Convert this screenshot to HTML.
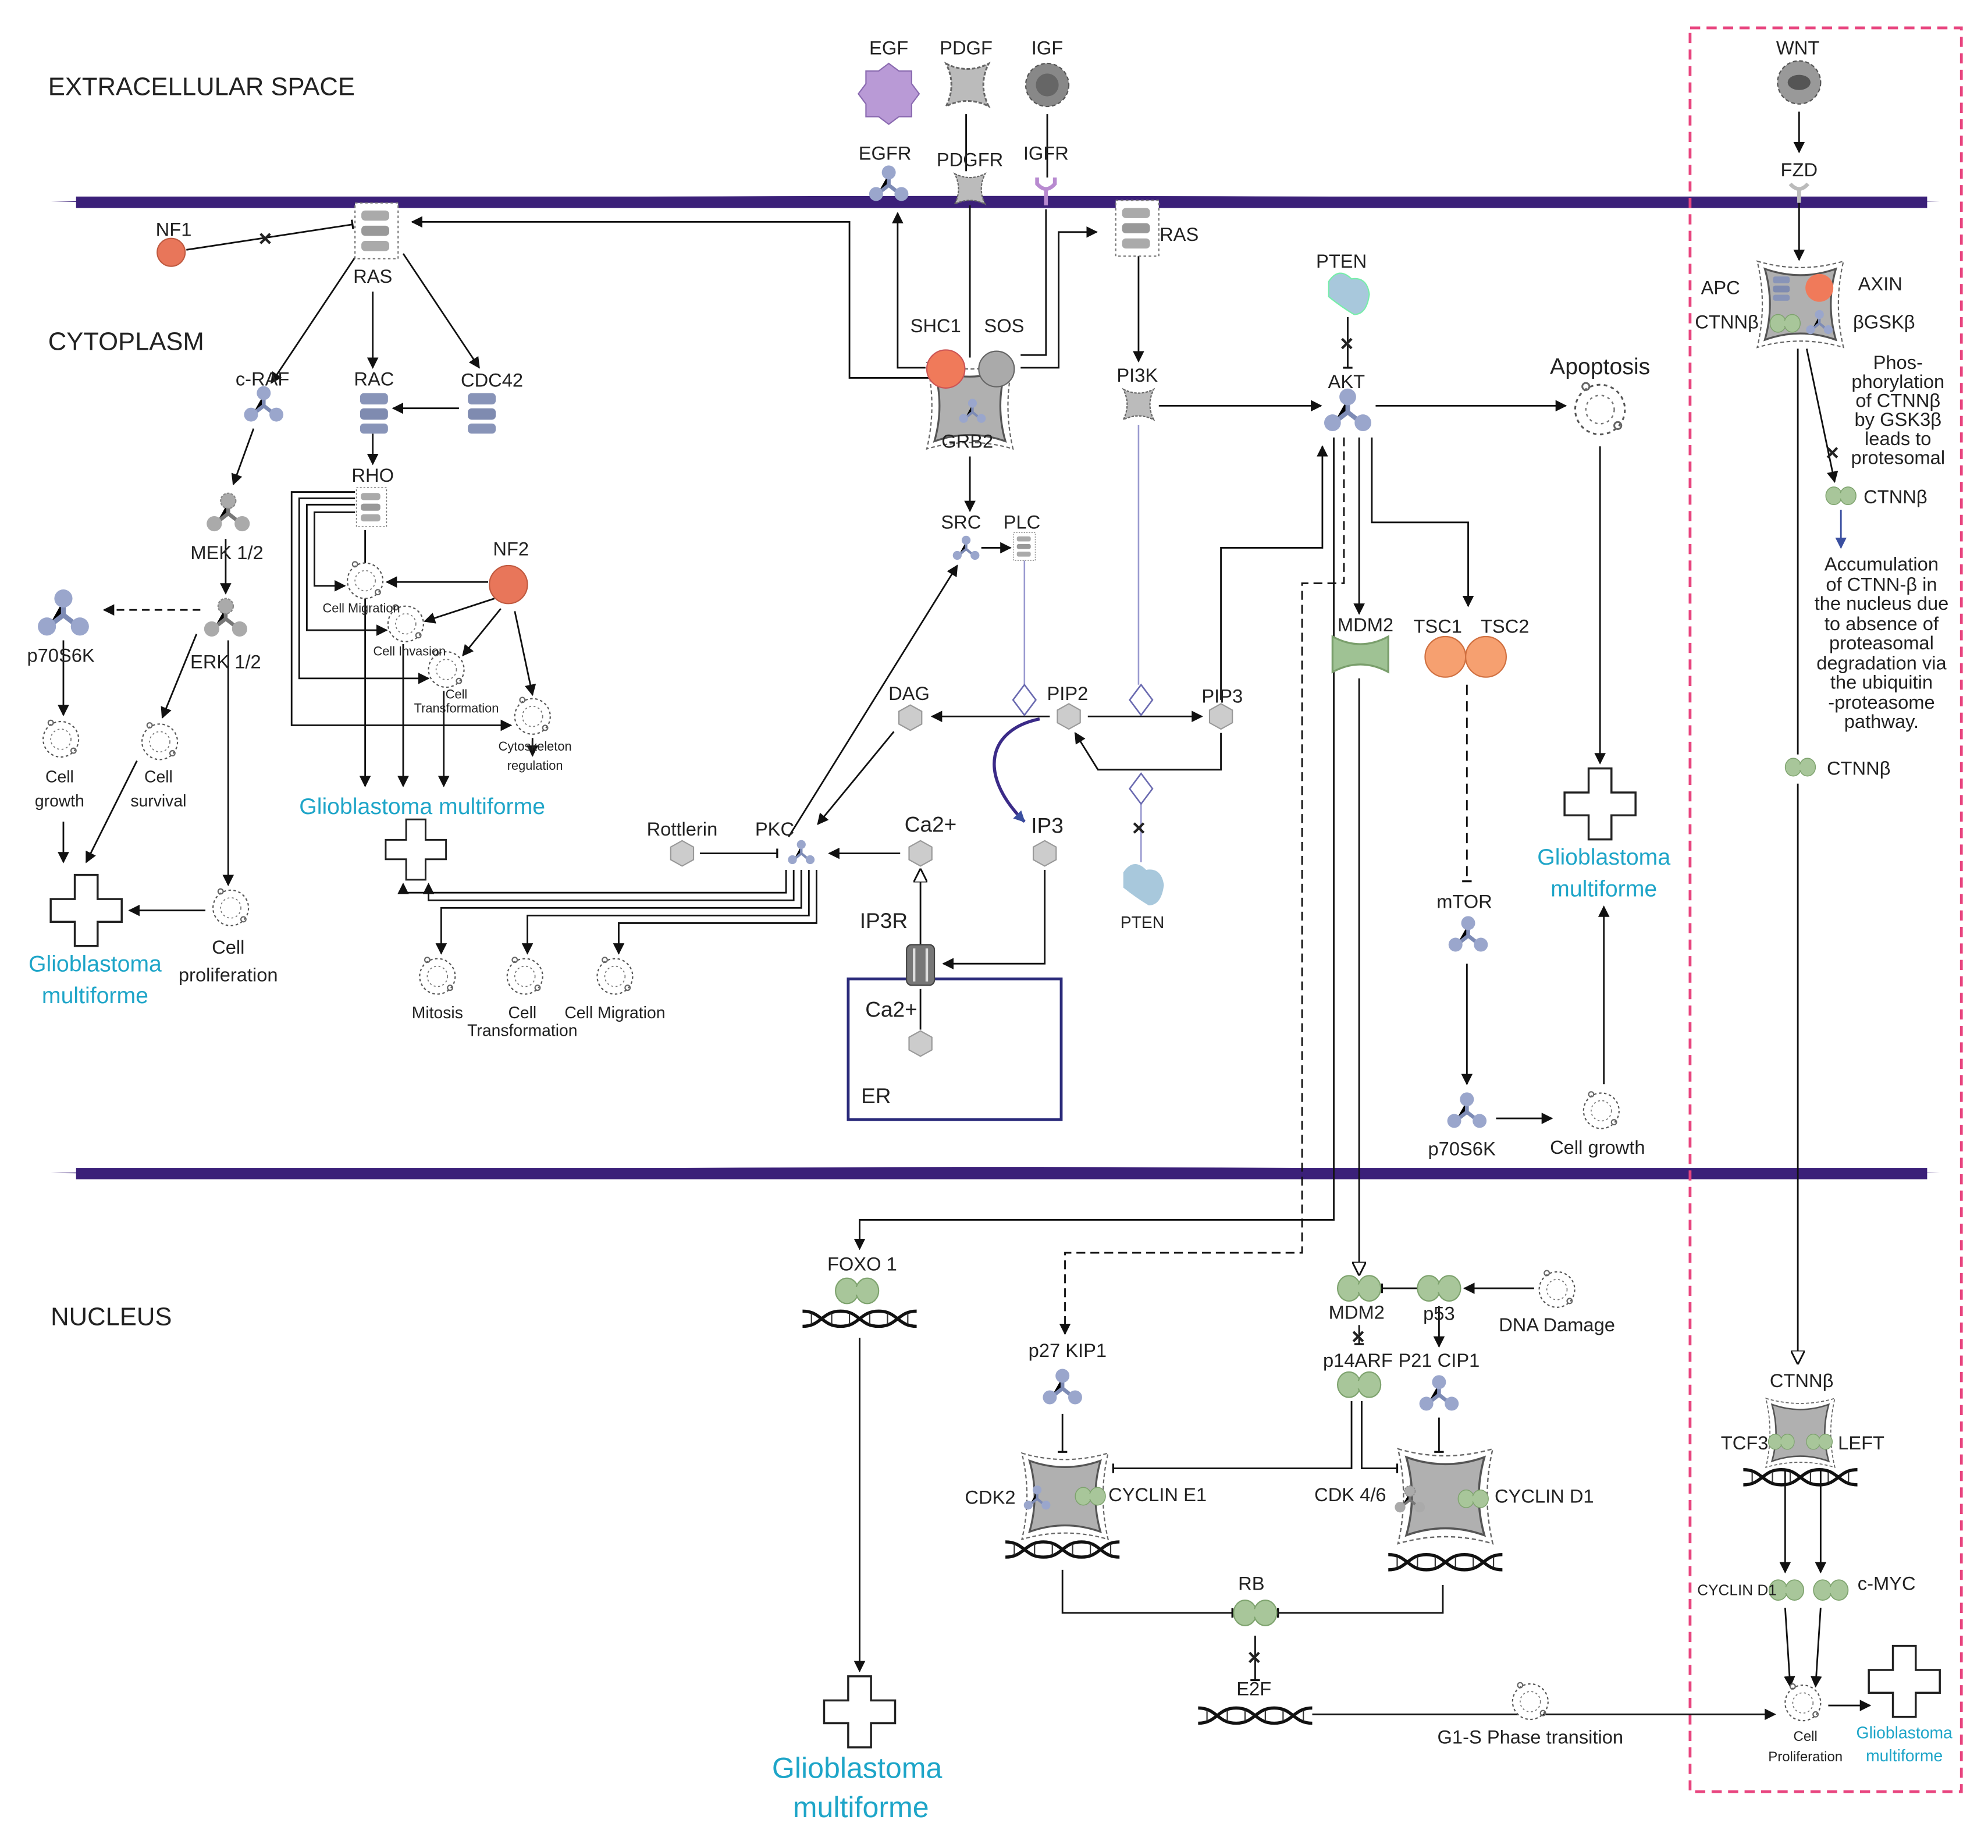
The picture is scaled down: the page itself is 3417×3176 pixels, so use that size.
<!DOCTYPE html>
<html><head><meta charset="utf-8"><style>
html,body{margin:0;padding:0;background:#fff}
svg{display:block}
text{font-family:"Liberation Sans",sans-serif;fill:#222}
</style></head><body>
<svg width="3417" height="3176" viewBox="0 0 1568 1457.4" xmlns="http://www.w3.org/2000/svg">
<defs>
<marker id="a" viewBox="0 0 10 10" refX="9" refY="5" markerWidth="9" markerHeight="9" markerUnits="userSpaceOnUse" orient="auto"><path d="M0,0L10,5L0,10z" fill="#111"/></marker>
<marker id="ab" viewBox="0 0 10 10" refX="9" refY="5" markerWidth="9" markerHeight="9" markerUnits="userSpaceOnUse" orient="auto"><path d="M0,0L10,5L0,10z" fill="#3a4fa0"/></marker>
<marker id="o" viewBox="0 0 10 10" refX="9" refY="5" markerWidth="11" markerHeight="11" markerUnits="userSpaceOnUse" orient="auto"><path d="M0,0L10,5L0,10z" fill="#fff" stroke="#111" stroke-width="1.2"/></marker>
<marker id="b" viewBox="0 0 4 10" refX="2" refY="5" markerWidth="3" markerHeight="10" markerUnits="userSpaceOnUse" orient="auto"><path d="M2,0L2,10" stroke="#111" stroke-width="2"/></marker>
<g id="tri"><path d="M0,-9L0,0L-9,7M0,0L9,7" stroke="#7d8bb5" stroke-width="3"/><circle cx="0" cy="-10" r="5.5" fill="#9aa6cc"/><circle cx="-10" cy="7" r="5.5" fill="#9aa6cc"/><circle cx="10" cy="7" r="5.5" fill="#9aa6cc"/></g>
<g id="tris"><path d="M0,-6L0,0L-6,5M0,0L6,5" stroke="#7d8bb5" stroke-width="2"/><circle cx="0" cy="-7" r="3.5" fill="#9aa6cc"/><circle cx="-7" cy="5" r="3.5" fill="#9aa6cc"/><circle cx="7" cy="5" r="3.5" fill="#9aa6cc"/></g>
<g id="trig"><path d="M0,-9L0,0L-9,7M0,0L9,7" stroke="#777" stroke-width="3"/><circle cx="0" cy="-10" r="6" fill="#aaa" stroke="#888" stroke-dasharray="2 1"/><circle cx="-11" cy="8" r="6" fill="#aaa"/><circle cx="11" cy="8" r="6" fill="#aaa"/></g>
<g id="cross"><path d="M-9,-28H9V-9H28V9H9V28H-9V9H-28V-9H-9z" fill="#fff" stroke="#222" stroke-width="1.6"/></g>
<g id="cell"><circle r="14" fill="#fff" stroke="#555" stroke-width="1" stroke-dasharray="2 2"/><circle r="8" fill="none" stroke="#777" stroke-width="0.8" stroke-dasharray="1.5 2"/><circle cx="-8" cy="-13" r="2" fill="none" stroke="#666"/><circle cx="10" cy="9" r="2" fill="none" stroke="#666"/></g>
<g id="hex"><path d="M0,-10L9,-5L9,5L0,10L-9,5L-9,-5z" fill="#ccc" stroke="#999"/></g>
<g id="grn"><ellipse cx="-8" cy="0" rx="9" ry="10" fill="#a8c69a" stroke="#7ea36e"/><ellipse cx="8" cy="0" rx="9" ry="10" fill="#a8c69a" stroke="#7ea36e"/><rect x="-6" y="-3" width="12" height="6" fill="#a8c69a"/></g>
<g id="grnb"><path d="M-22,-14Q0,-2 22,-14L22,14Q0,2 -22,14z" fill="#9fc294" stroke="#7a9f6c" stroke-width="1.5"/></g>
<g id="ras"><rect x="-17" y="-22" width="34" height="44" fill="#fff" stroke="#777" stroke-dasharray="2 2"/><rect x="-12" y="-16" width="22" height="8" rx="3" fill="#aaa"/><rect x="-12" y="-4" width="22" height="8" rx="3" fill="#999"/><rect x="-12" y="8" width="22" height="8" rx="3" fill="#aaa"/></g>
<g id="rasb"><rect x="-11" y="-15" width="22" height="9" rx="3" fill="#8894b8"/><rect x="-11" y="-3" width="22" height="9" rx="3" fill="#7f8bb0"/><rect x="-11" y="9" width="22" height="8" rx="3" fill="#8894b8"/></g>
<g id="sq"><path d="M-12,-12Q0,-6 12,-12Q6,0 12,12Q0,6 -12,12Q-6,0 -12,-12z" fill="#bbb" stroke="#666" stroke-dasharray="2 1"/></g>
<g id="cplx"><path d="M-28,-28Q0,-18 28,-28Q20,0 28,28Q0,18 -28,28Q-20,0 -28,-28z" fill="#b0b0b0" stroke="#555" stroke-width="1.5"/><path d="M-34,-34Q0,-24 34,-34Q26,0 34,34Q0,24 -34,34Q-26,0 -34,-34z" fill="none" stroke="#666" stroke-dasharray="3 2"/></g>
<g id="dna"><path d="M-45,-6C-30,-6 -30,6 -15,6S0,-6 15,-6S30,6 45,6M-45,6C-30,6 -30,-6 -15,-6S0,6 15,6S30,-6 45,-6" fill="none" stroke="#111" stroke-width="2.5"/><path d="M-38,-4V4M-22,-4V4M-8,-4V4M8,-4V4M22,-4V4M38,-4V4" stroke="#333" stroke-width="1"/></g>
</defs>

<!-- membranes -->
<path d="M40,159Q780,150 1530,159Q780,168 40,159z" fill="#3b2079"/>
<rect x="60" y="155" width="1460" height="9" fill="#3b2079"/>
<path d="M40,925Q780,916 1530,925Q780,934 40,925z" fill="#3b2079"/>
<rect x="60" y="921" width="1460" height="9" fill="#3b2079"/>
<rect x="1333" y="22" width="214" height="1391" fill="none" stroke="#e8457f" stroke-width="2.2" stroke-dasharray="8 5"/>
<rect x="669" y="772" width="168" height="111" fill="none" stroke="#2a2a7a" stroke-width="2.2"/>

<!-- section labels -->
<g font-size="20">
<text x="38" y="75">EXTRACELLULAR SPACE</text>
<text x="38" y="276">CYTOPLASM</text>
<text x="40" y="1045">NUCLEUS</text>
</g>

<!-- connectors -->
<g stroke="#111" stroke-width="1.3" fill="none">
<path d="M147,197L278,177" marker-end="url(#b)"/>
<path d="M282,200L214,302" marker-end="url(#a)"/>
<path d="M294,230L294,290" marker-end="url(#a)"/>
<path d="M318,200L378,290" marker-end="url(#a)"/>
<path d="M362,322L310,322" marker-end="url(#a)"/>
<path d="M294,342L294,366" marker-end="url(#a)"/>
<path d="M200,338L184,382" marker-end="url(#a)"/>
<path d="M178,425L178,468" marker-end="url(#a)"/>
<path d="M158,481L82,481" stroke-dasharray="6 4" marker-end="url(#a)"/>
<path d="M50,505L50,564" marker-end="url(#a)"/>
<path d="M50,648L50,680" marker-end="url(#a)"/>
<path d="M155,500L128,566" marker-end="url(#a)"/>
<path d="M108,600L68,680" marker-end="url(#a)"/>
<path d="M180,505L180,698" marker-end="url(#a)"/>
<path d="M162,718L102,718" marker-end="url(#a)"/>
<path d="M280,388H230V572H403" marker-end="url(#a)"/>
<path d="M280,393H236V535H338" marker-end="url(#a)"/>
<path d="M280,398H242V497H305" marker-end="url(#a)"/>
<path d="M280,404H248V462H272" marker-end="url(#a)"/>
<path d="M288,418V620" marker-end="url(#a)"/>
<path d="M318,508V620" marker-end="url(#a)"/>
<path d="M350,545V620" marker-end="url(#a)"/>
<path d="M385,459H305" marker-end="url(#a)"/>
<path d="M390,472L335,490" marker-end="url(#a)"/>
<path d="M395,480L365,517" marker-end="url(#a)"/>
<path d="M406,482L420,548" marker-end="url(#a)"/>
<path d="M420,582V596" marker-end="url(#a)"/>
<path d="M620,686V704H318V697" marker-end="url(#a)"/>
<path d="M626,686V710H338V697" marker-end="url(#a)"/>
<path d="M632,686V716H348V752" marker-end="url(#a)"/>
<path d="M638,686V722H416V752" marker-end="url(#a)"/>
<path d="M644,686V728H488V752" marker-end="url(#a)"/>
<path d="M710,673H654" marker-end="url(#a)"/>
<path d="M552,673H613" marker-end="url(#b)"/>
<path d="M705,577L645,650" marker-end="url(#a)"/>
<path d="M622,660L755,446" marker-end="url(#a)"/>
<path d="M774,432H797" marker-end="url(#a)"/>
<path d="M828,565H735" marker-end="url(#a)"/>
<path d="M858,565H948" marker-end="url(#a)"/>
<path d="M963,578V607H866L848,578" marker-end="url(#a)"/>
<path d="M963,552V432H1043V352" marker-end="url(#a)"/>
<path d="M824,686V760H744" marker-end="url(#a)"/>
<path d="M726,745V686" marker-end="url(#o)"/>
<path d="M726,780V812"/>
<path d="M914,320H1042" marker-end="url(#a)"/>
<path d="M898,200V285" marker-end="url(#a)"/>
<path d="M805,290H835V183H865" marker-end="url(#a)"/>
<path d="M765,282V162"/>
<path d="M825,165V280H805"/>
<path d="M730,290H708V168" marker-end="url(#a)"/>
<path d="M735,298H670V175H325" marker-end="url(#a)"/>
<path d="M765,360V403" marker-end="url(#a)"/>
<path d="M1063,250V290" marker-end="url(#b)"/>
<path d="M1085,320H1235" marker-end="url(#a)"/>
<path d="M1262,352V602" marker-end="url(#a)"/>
<path d="M1265,855V715" marker-end="url(#a)"/>
<path d="M1072,345V484" marker-end="url(#a)"/>
<path d="M1082,345V412H1158V478" marker-end="url(#a)"/>
<path d="M1157,540V695" stroke-dasharray="8 5" marker-end="url(#b)"/>
<path d="M1157,760V855" marker-end="url(#a)"/>
<path d="M1180,882H1224" marker-end="url(#a)"/>
<path d="M1052,345V962H678V985" marker-end="url(#a)"/>
<path d="M1060,345V460H1027V988H840V1052" stroke-dasharray="7 4" marker-end="url(#a)"/>
<path d="M1072,535V1005" marker-end="url(#o)"/>
<path d="M1118,1016H1090" marker-end="url(#b)"/>
<path d="M1210,1016H1155" marker-end="url(#a)"/>
<path d="M1135,1030V1062" marker-end="url(#a)"/>
<path d="M1072,1045V1060" marker-end="url(#b)"/>
<path d="M1066,1105V1158H878" marker-end="url(#b)"/>
<path d="M1074,1105V1158H1102" marker-end="url(#b)"/>
<path d="M838,1115V1145" marker-end="url(#b)"/>
<path d="M1135,1118V1145" marker-end="url(#b)"/>
<path d="M838,1238V1272H972" marker-end="url(#b)"/>
<path d="M1138,1250V1272H1008" marker-end="url(#b)"/>
<path d="M990,1290V1325" marker-end="url(#b)"/>
<path d="M1035,1352H1400" marker-end="url(#a)"/>
<path d="M678,1055V1318" marker-end="url(#a)"/>
<path d="M1419,88V120" marker-end="url(#a)"/>
<path d="M1419,155V205" marker-end="url(#a)"/>
<path d="M1425,275L1447,380" marker-end="url(#a)"/>
<path d="M1418,275V595"/>
<path d="M1418,618V1075" marker-end="url(#o)"/>
<path d="M1408,1160V1240" marker-end="url(#a)"/>
<path d="M1436,1160V1240" marker-end="url(#a)"/>
<path d="M1408,1268L1412,1330" marker-end="url(#a)"/>
<path d="M1436,1268L1432,1330" marker-end="url(#a)"/>
<path d="M1442,1345H1475" marker-end="url(#a)"/>
<path d="M762,90V135M826,90V140"/>
</g>
<path d="M1452,402V432" stroke="#3a4fa0" stroke-width="1.3" marker-end="url(#ab)"/>
<g stroke="#9a9ad0" stroke-width="1.2" fill="none">
<path d="M808,442V540"/><path d="M898,335V540"/><path d="M900,632V680"/>
</g>
<path d="M820,567C780,575 770,610 808,648" stroke="#3b2b88" stroke-width="2.5" fill="none" marker-end="url(#ab)"/>
<g fill="#fff" stroke="#6a6ab0" stroke-width="1.2">
<path d="M808,540L817,552L808,564L799,552z"/><path d="M900,540L909,552L900,564L891,552z"/><path d="M900,610L909,622L900,634L891,622z"/>
</g>
<g font-size="18" fill="#111" font-weight="bold">
<text x="204" y="194">×</text><text x="1057" y="277">×</text><text x="893" y="659">×</text><text x="1066" y="1060">×</text><text x="984" y="1313">×</text><text x="1440" y="363">×</text>
</g>

<!-- nodes -->
<path d="M701,50l8,6 10,0 0,10 6,8-6,8 0,10-10,0-8,6-8-6-10,0 0-10-6-8 6-8 0-10 10,0z" fill="#b99ad6" stroke="#8a6ab0"/>
<use href="#sq" transform="translate(763,67) scale(1.4)"/>
<circle cx="826" cy="67" r="17" fill="#888" stroke="#555" stroke-dasharray="3 2"/><circle cx="826" cy="67" r="9" fill="#666"/>
<circle cx="1419" cy="65" r="17" fill="#999" stroke="#555" stroke-dasharray="3 2"/><ellipse cx="1419" cy="65" rx="9" ry="6" fill="#555"/>
<use href="#tri" transform="translate(701,146)"/>
<use href="#sq" transform="translate(765,149)"/>
<path d="M818,140v5q7,8 14,0v-5M825,148v14" stroke="#b88ad0" stroke-width="3" fill="none"/>
<path d="M1412,145q7,8 14,0M1419,150v10" stroke="#bbb" stroke-width="3" fill="none"/>
<circle cx="135" cy="199" r="11" fill="#e8765a" stroke="#c05a40"/>
<use href="#ras" transform="translate(297,182)"/>
<use href="#ras" transform="translate(897,180)"/>
<path d="M1048,222q8-12 18-2q12,-2 14,12q-2,16-12,16q-10-6-20-14z" fill="#a8c8dc" stroke="#7ea"/>
<path d="M886,688q8-12 18-2q12,-2 14,12q-2,16-12,16q-10-6-20-14z" fill="#a8c8dc"/>
<use href="#tri" transform="translate(1063,325) scale(1.2)"/>
<use href="#cell" transform="translate(1262,323) scale(1.4)"/>
<use href="#cplx" transform="translate(765,320)"/>
<circle cx="746" cy="291" r="15" fill="#f07a5a" stroke="#c55"/><circle cx="786" cy="291" r="14" fill="#aaa" stroke="#666"/>
<use href="#tris" transform="translate(767,325)"/>
<use href="#tri" transform="translate(208,320)"/>
<use href="#rasb" transform="translate(295,325)"/>
<use href="#rasb" transform="translate(380,325)"/>
<use href="#ras" transform="translate(293,400) scale(0.7)"/>
<use href="#trig" transform="translate(180,405)"/>
<use href="#trig" transform="translate(178,488)"/>
<use href="#tri" transform="translate(50,485) scale(1.3)"/>
<circle cx="401" cy="461" r="15" fill="#e8765a" stroke="#c05a40"/>
<use href="#cell" transform="translate(288,458)"/>
<use href="#cell" transform="translate(320,492)"/>
<use href="#cell" transform="translate(352,528)"/>
<use href="#cell" transform="translate(420,565)"/>
<use href="#cross" transform="translate(328,670) scale(0.85)"/>
<use href="#cell" transform="translate(48,583)"/>
<use href="#cell" transform="translate(126,585)"/>
<use href="#cross" transform="translate(68,718)"/>
<use href="#cell" transform="translate(182,716)"/>
<use href="#cell" transform="translate(345,770)"/>
<use href="#cell" transform="translate(414,770)"/>
<use href="#cell" transform="translate(485,770)"/>
<use href="#tris" transform="translate(762,433)"/>
<use href="#ras" transform="translate(808,431) scale(0.5)"/>
<use href="#sq" transform="translate(898,319)"/>
<use href="#hex" transform="translate(718,566)"/>
<use href="#hex" transform="translate(843,565)"/>
<use href="#hex" transform="translate(963,565)"/>
<use href="#hex" transform="translate(538,673)"/>
<use href="#tris" transform="translate(632,673)"/>
<use href="#hex" transform="translate(726,673)"/>
<use href="#hex" transform="translate(824,673)"/>
<use href="#hex" transform="translate(726,823)"/>
<rect x="715" y="745" width="22" height="32" rx="4" fill="#777" stroke="#444"/><path d="M721,748v26M731,748v26" stroke="#ddd" stroke-width="2"/>
<use href="#grnb" transform="translate(1073,516)"/>
<circle cx="1140" cy="518" r="16" fill="#f6a070" stroke="#d07040"/><circle cx="1172" cy="518" r="16" fill="#f6a070" stroke="#d07040"/>
<use href="#tri" transform="translate(1158,738)"/>
<use href="#tri" transform="translate(1157,877)"/>
<use href="#cell" transform="translate(1263,876)"/>
<use href="#cross" transform="translate(1262,634)"/>
<use href="#cplx" transform="translate(1420,240)"/>
<circle cx="1435" cy="227" r="11" fill="#f07a5a"/><use href="#rasb" transform="translate(1405,227) scale(0.6)"/>
<use href="#grn" transform="translate(1408,255) scale(0.7)"/><use href="#tris" transform="translate(1435,255)"/>
<use href="#grn" transform="translate(1452,391) scale(0.7)"/>
<use href="#grn" transform="translate(1420,605) scale(0.7)"/>
<use href="#dna" transform="translate(1420,1165)"/>
<use href="#cplx" transform="translate(1420,1130) scale(0.8)"/>
<use href="#grn" transform="translate(1405,1137) scale(0.6)"/><use href="#grn" transform="translate(1435,1137) scale(0.6)"/>
<use href="#grn" transform="translate(1409,1254) scale(0.8)"/>
<use href="#grn" transform="translate(1444,1254) scale(0.8)"/>
<use href="#cell" transform="translate(1422,1343)"/>
<use href="#cross" transform="translate(1502,1326)"/>
<use href="#dna" transform="translate(678,1040)"/>
<use href="#grn" transform="translate(676,1018)"/>
<use href="#cross" transform="translate(678,1350)"/>
<use href="#tri" transform="translate(838,1095)"/>
<use href="#dna" transform="translate(838,1222)"/>
<use href="#cplx" transform="translate(840,1180)"/>
<use href="#tris" transform="translate(818,1182)"/><use href="#grn" transform="translate(860,1180) scale(0.7)"/>
<use href="#grn" transform="translate(1072,1016)"/>
<use href="#grn" transform="translate(1135,1016)"/>
<use href="#cell" transform="translate(1228,1017)"/>
<use href="#grn" transform="translate(1072,1092)"/>
<use href="#tri" transform="translate(1135,1100)"/>
<use href="#dna" transform="translate(1140,1232)"/>
<use href="#cplx" transform="translate(1140,1180) scale(1.1)"/>
<use href="#trig" transform="translate(1112,1183) scale(0.7)"/><use href="#grn" transform="translate(1162,1182) scale(0.7)"/>
<use href="#grn" transform="translate(990,1272)"/>
<use href="#dna" transform="translate(990,1353)"/>
<use href="#cell" transform="translate(1207,1342)"/>

<!-- labels -->
<g font-size="15" text-anchor="middle">
<text x="701" y="43">EGF</text><text x="762" y="43">PDGF</text><text x="826" y="43">IGF</text><text x="1418" y="43">WNT</text>
<text x="698" y="126">EGFR</text><text x="765" y="131">PDGFR</text><text x="825" y="126">IGFR</text><text x="1419" y="139">FZD</text>
<text x="137" y="186">NF1</text><text x="294" y="223">RAS</text><text x="930" y="190">RAS</text>
<text x="1058" y="211">PTEN</text><text x="1062" y="306">AKT</text><text x="1262" y="295" font-size="18">Apoptosis</text>
<text x="738" y="262">SHC1</text><text x="792" y="262">SOS</text><text x="763" y="353">GRB2</text>
<text x="207" y="304">c-RAF</text><text x="295" y="304">RAC</text><text x="388" y="305">CDC42</text>
<text x="294" y="380">RHO</text><text x="179" y="441">MEK 1/2</text><text x="178" y="527">ERK 1/2</text><text x="48" y="522">p70S6K</text>
<text x="403" y="438">NF2</text>
<text x="758" y="417">SRC</text><text x="806" y="417">PLC</text><text x="897" y="301">PI3K</text>
<text x="717" y="552">DAG</text><text x="842" y="552">PIP2</text><text x="964" y="554">PIP3</text>
<text x="538" y="659">Rottlerin</text><text x="611" y="659">PKC</text><text x="734" y="656" font-size="17">Ca2+</text><text x="826" y="657" font-size="17">IP3</text>
<text x="697" y="732" font-size="17">IP3R</text><text x="703" y="802" font-size="17">Ca2+</text><text x="691" y="870" font-size="17">ER</text>
<text x="901" y="732" font-size="13">PTEN</text>
<text x="1077" y="498">MDM2</text><text x="1134" y="499">TSC1</text><text x="1187" y="499">TSC2</text>
<text x="1155" y="716">mTOR</text><text x="1153" y="911">p70S6K</text><text x="1260" y="910">Cell growth</text>
<text x="1357" y="232">APC</text><text x="1483" y="229">AXIN</text><text x="1362" y="259">CTNNβ</text><text x="1486" y="259">βGSKβ</text>
<text x="1495" y="397">CTNNβ</text><text x="1466" y="611">CTNNβ</text>
<text x="1421" y="1094">CTNNβ</text><text x="1376" y="1143">TCF3</text><text x="1468" y="1143">LEFT</text>
<text x="1488" y="1254">c-MYC</text>
<text x="680" y="1002">FOXO 1</text>
<text x="842" y="1070">p27 KIP1</text><text x="781" y="1186">CDK2</text><text x="913" y="1184">CYCLIN E1</text>
<text x="1070" y="1040">MDM2</text><text x="1135" y="1041">p53</text><text x="1228" y="1050">DNA Damage</text>
<text x="1071" y="1078">p14ARF</text><text x="1135" y="1078">P21 CIP1</text>
<text x="1065" y="1184">CDK 4/6</text><text x="1218" y="1185">CYCLIN D1</text>
<text x="987" y="1254">RB</text><text x="989" y="1337">E2F</text><text x="1207" y="1375">G1-S Phase transition</text>
<text x="47" y="617" font-size="13">Cell</text><text x="47" y="636" font-size="13">growth</text>
<text x="125" y="617" font-size="13">Cell</text><text x="125" y="636" font-size="13">survival</text>
<text x="180" y="752">Cell</text><text x="180" y="774">proliferation</text>
<text x="345" y="803" font-size="13">Mitosis</text><text x="412" y="803" font-size="13">Cell</text><text x="412" y="817" font-size="13">Transformation</text><text x="485" y="803" font-size="13">Cell Migration</text>
<text x="1370" y="1258" font-size="12">CYCLIN D1</text>
<text x="1424" y="1373" font-size="11">Cell</text><text x="1424" y="1389" font-size="11">Proliferation</text>
</g>
<g font-size="10" text-anchor="middle">
<text x="285" y="483">Cell Migration</text><text x="323" y="517">Cell Invasion</text><text x="360" y="551">Cell</text><text x="360" y="562">Transformation</text>
<text x="422" y="592">Cytoskeleton</text><text x="422" y="607">regulation</text>
</g>
<g font-size="15" text-anchor="middle">
<text x="1497" y="291">Phos-</text><text x="1497" y="306">phorylation</text><text x="1497" y="321">of CTNNβ</text><text x="1497" y="336">by GSK3β</text><text x="1497" y="351">leads to</text><text x="1497" y="366">protesomal</text>
<text x="1484" y="450">Accumulation</text><text x="1484" y="466">of CTNN-β in</text><text x="1484" y="481">the nucleus due</text><text x="1484" y="497">to absence of</text><text x="1484" y="512">proteasomal</text><text x="1484" y="528">degradation via</text><text x="1484" y="543">the ubiquitin</text><text x="1484" y="559">-proteasome</text><text x="1484" y="574">pathway.</text>
</g>
<g text-anchor="middle" style="fill:#1ea5c8">
<text x="333" y="642" font-size="18" style="fill:#1ea5c8">Glioblastoma multiforme</text>
<text x="75" y="766" font-size="18" style="fill:#1ea5c8">Glioblastoma</text><text x="75" y="791" font-size="18" style="fill:#1ea5c8">multiforme</text>
<text x="1265" y="682" font-size="18" style="fill:#1ea5c8">Glioblastoma</text><text x="1265" y="707" font-size="18" style="fill:#1ea5c8">multiforme</text>
<text x="676" y="1402" font-size="23" style="fill:#1ea5c8">Glioblastoma</text><text x="679" y="1433" font-size="23" style="fill:#1ea5c8">multiforme</text>
<text x="1502" y="1371" font-size="13" style="fill:#1ea5c8">Glioblastoma</text><text x="1502" y="1389" font-size="13" style="fill:#1ea5c8">multiforme</text>
</g>
</svg>
</body></html>
